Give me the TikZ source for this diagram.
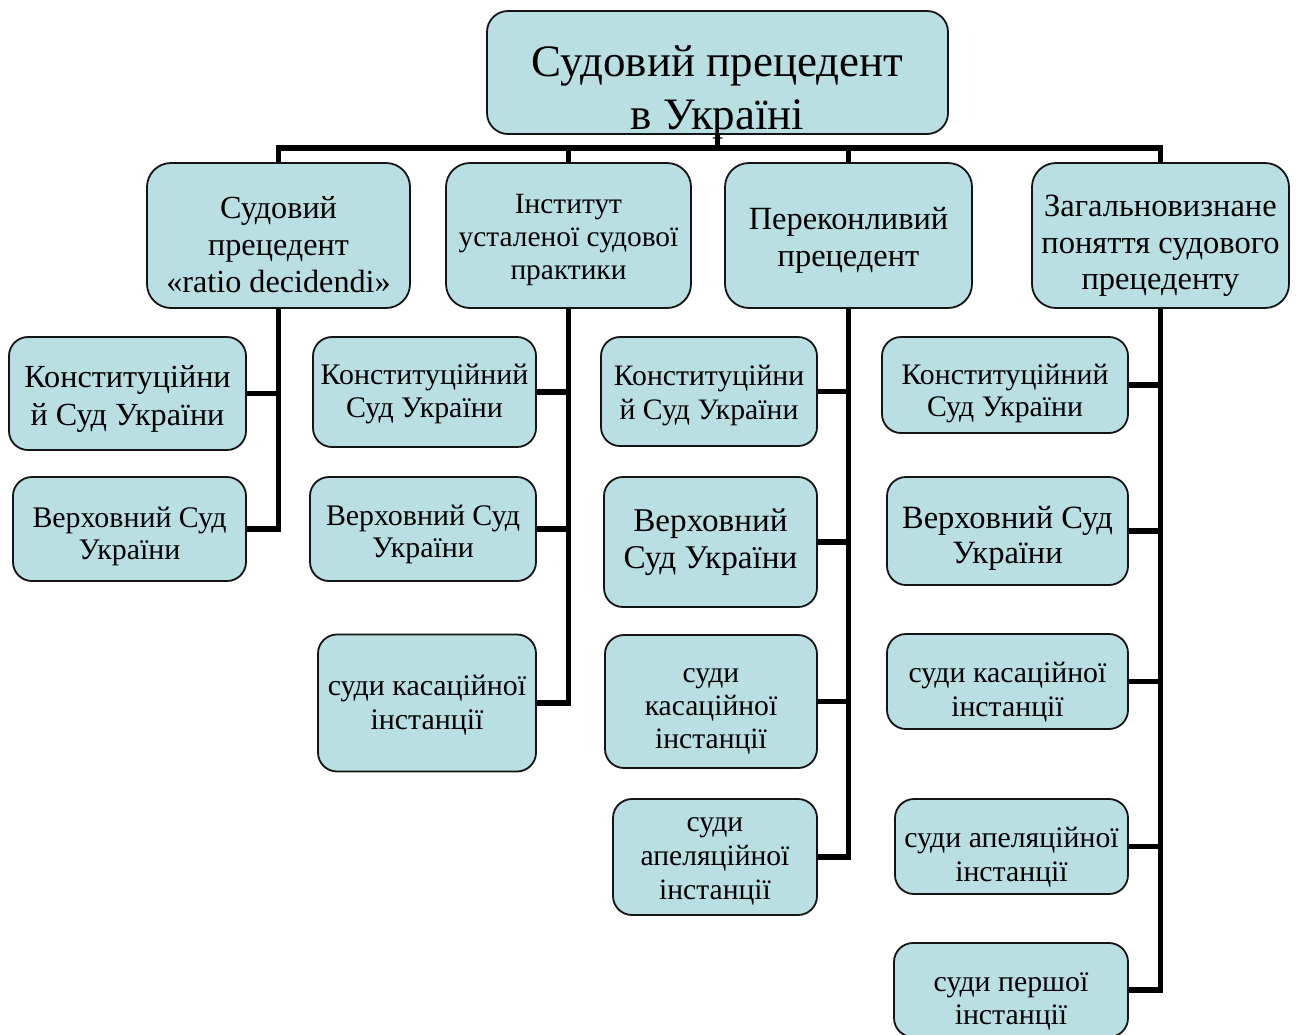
\documentclass[tikz,border=0pt]{standalone}
\usepackage{fontspec}
\setmainfont{Liberation Serif}
\definecolor{boxfill}{RGB}{186,223,227}
\definecolor{boxline}{RGB}{20,20,20}
\newcommand{\setfs}[2]{\fontsize{#1}{#2}\selectfont}
\begin{document}
\begin{tikzpicture}[x=1pt,y=-1pt,
  box/.style={draw=boxline, line width=1.8pt, fill=boxfill, rounded corners=#1, inner sep=0pt},
  box/.default=19pt,
  txt/.style={align=center, inner sep=0pt, text=black},
  conn/.style={draw=black, line width=5.5pt, line join=miter}
]
\useasboundingbox[fill=white] (0,0) rectangle (1297,1034);

% root
\node[box=21pt, minimum width=461pt, minimum height=123pt] (root) at (717.5,72.5) {};
\coordinate (barpt) at (0,148);

% level 1
\node[box=24pt, minimum width=263pt, minimum height=145pt] (A) at (278.5,235.5) {};
\node[box=24pt, minimum width=245pt, minimum height=145pt] (B) at (568.5,235.5) {};
\node[box=24pt, minimum width=247pt, minimum height=145pt] (C) at (848.5,235.5) {};
\node[box=24pt, minimum width=257pt, minimum height=145pt] (D) at (1160.5,235.5) {};

% column A children
\node[box, minimum width=237pt, minimum height=113pt] (a1) at (127.5,393.5) {};
\node[box, minimum width=233pt, minimum height=104pt] (a2) at (129.5,529) {};
% column B children
\node[box, minimum width=223pt, minimum height=110pt] (b1) at (424.5,392) {};
\node[box, minimum width=226pt, minimum height=104pt] (b2) at (423,529) {};
\node[box, minimum width=218pt, minimum height=137pt] (b3) at (427,703) {};
% column C children
\node[box, minimum width=216pt, minimum height=109pt] (c1) at (709,391.5) {};
\node[box, minimum width=213pt, minimum height=130pt] (c2) at (710.5,542) {};
\node[box, minimum width=212pt, minimum height=133pt] (c3) at (711,701.5) {};
\node[box, minimum width=204pt, minimum height=116pt] (c4) at (715,857) {};
% column D children
\node[box, minimum width=246pt, minimum height=96pt] (d1) at (1005,385) {};
\node[box, minimum width=241pt, minimum height=108pt] (d2) at (1007.5,531) {};
\node[box, minimum width=241pt, minimum height=95pt] (d3) at (1007.5,681.5) {};
\node[box, minimum width=233pt, minimum height=95pt] (d4) at (1011.5,846.5) {};
\node[box, minimum width=234pt, minimum height=94pt] (d5) at (1011,990) {};

% texts
\node[txt, font=\setfs{45}{53}] (roott) at (717.5,92) {Судовий прецедент\\в Україні};
\node[txt, font=\setfs{32.2}{37}] (At) at (278.5,244.5) {Судовий\\прецедент\\«ratio decidendi»};
\node[txt, font=\setfs{29.4}{33}] (Bt) at (568.5,240) {Інститут\\усталеної судової\\практики};
\node[txt, font=\setfs{32.4}{37.5}] (Ct) at (848.5,240.5) {Переконливий\\прецедент};
\node[txt, font=\setfs{32.5}{36.5}] (Dt) at (1160.5,246) {Загальновизнане\\поняття судового\\прецеденту};

\node[txt, font=\setfs{32.2}{37.5}] (a1t) at (127.5,399) {Конституційни\\й Суд України};
\node[txt, font=\setfs{29.9}{32}] (a2t) at (129.5,536) {Верховний Суд\\України};
\node[txt, font=\setfs{29.9}{33}] (b1t) at (424.5,394) {Конституційний\\Суд України};
\node[txt, font=\setfs{29.9}{32}] (b2t) at (423,534) {Верховний Суд\\України};
\node[txt, font=\setfs{29.9}{34}] (b3t) at (427,705) {суди касаційної\\інстанції};
\node[txt, font=\setfs{29.7}{34}] (c1t) at (709,395.5) {Конституційни\\й Суд України};
\node[txt, font=\setfs{33.2}{36.5}] (c2t) at (710.5,542) {Верховний\\Суд України};
\node[txt, font=\setfs{29.6}{33.3}] (c3t) at (711,711.5) {суди\\касаційної\\інстанції};
\node[txt, font=\setfs{29.6}{34}] (c4t) at (715,861) {суди\\апеляційної\\інстанції};
\node[txt, font=\setfs{29.8}{32}] (d1t) at (1005,394) {Конституційний\\Суд України};
\node[txt, font=\setfs{32.5}{35}] (d2t) at (1007.5,538) {Верховний Суд\\України};
\node[txt, font=\setfs{29.8}{34}] (d3t) at (1007.5,692.5) {суди касаційної\\інстанції};
\node[txt, font=\setfs{29.8}{34}] (d4t) at (1011.5,857.5) {суди апеляційної\\інстанції};
\node[txt, font=\setfs{29.8}{33}] (d5t) at (1011,1001) {суди першої\\інстанції};

% connectors: root to level 1
\draw[conn] (root.south) -- (root.south |- barpt) -| (A.north);
\draw[conn] (root.south) -- (root.south |- barpt) -| (B.north);
\draw[conn] (root.south) -- (root.south |- barpt) -| (C.north);
\draw[conn] (root.south) -- (root.south |- barpt) -| (D.north);

% level 1 to children
\draw[conn] (A.south) |- (a1.east);
\draw[conn] (A.south) |- (a2.east);
\draw[conn] (B.south) |- (b1.east);
\draw[conn] (B.south) |- (b2.east);
\draw[conn] (B.south) |- (b3.east);
\draw[conn] (C.south) |- (c1.east);
\draw[conn] (C.south) |- (c2.east);
\draw[conn] (C.south) |- (c3.east);
\draw[conn] (C.south) |- (c4.east);
\draw[conn] (D.south) |- (d1.east);
\draw[conn] (D.south) |- (d2.east);
\draw[conn] (D.south) |- (d3.east);
\draw[conn] (D.south) |- (d4.east);
\draw[conn] (D.south) |- (d5.east);
\end{tikzpicture}
\end{document}
